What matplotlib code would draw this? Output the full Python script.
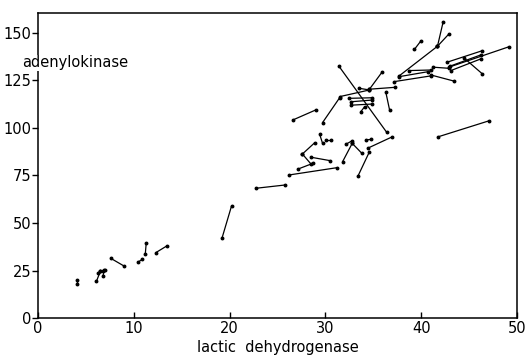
import matplotlib
matplotlib.use("Agg")
import matplotlib.pyplot as plt

# Each segment joins two measurements: (ldh_a, ak_a) -> (ldh_b, ak_b)
ldh_a = [42.3, 41.7, 41.7, 40.0, 49.2, 46.4, 46.2, 46.2, 44.5, 41.2,
         41.0, 41.0, 37.7, 38.7, 37.3, 35.9, 36.3, 31.4, 31.5, 33.5,
         32.5, 32.7, 32.7, 33.7, 31.5, 26.6, 41.8, 37.0, 34.6, 34.2,
         32.2, 32.8, 32.8, 29.4, 30.1, 28.9, 27.6, 28.5, 27.1, 26.25,
         22.8,
         4.1, 6.1, 6.5, 6.9, 6.3, 7.6, 10.4, 11.2, 12.3, 19.2]
ak_a = [156.0, 143.0, 143.0, 146.0, 142.8, 140.7, 138.4, 136.3, 136.7, 132.0,
        127.4, 127.9, 127.0, 130.2, 121.4, 129.3, 119.0, 132.6, 116.5, 120.9,
        115.6, 113.8, 112.0, 108.6, 116.0, 104.2, 95.4, 95.4, 87.5, 93.7,
        91.6, 91.9, 91.9, 96.7, 93.7, 92.3, 86.3, 84.6, 78.3, 75.3,
        68.3,
        19.8, 19.3, 24.5, 25.3, 23.5, 31.4, 29.3, 33.7, 34.4, 41.9]
ldh_b = [41.7, 42.9, 37.7, 39.3, 42.9, 42.7, 43.0, 43.1, 46.4, 42.9,
         37.2, 43.4, 40.7, 41.0, 34.6, 34.6, 36.7, 36.4, 34.6, 34.6,
         34.9, 34.9, 34.9, 34.1, 29.7, 29.0, 47.1, 34.4, 33.4, 34.8,
         32.8, 31.8, 33.8, 29.7, 30.6, 27.6, 28.5, 30.5, 28.7, 31.2,
         25.8,
         4.1, 6.5, 7.0, 6.8, 6.8, 9.0, 10.9, 11.3, 13.5, 20.2]
ak_b = [143.0, 149.5, 127.4, 141.4, 132.0, 134.6, 132.5, 130.2, 128.4, 131.4,
        124.4, 124.7, 129.6, 130.5, 120.4, 120.4, 109.5, 97.7, 120.0, 120.0,
        115.9, 114.7, 112.6, 111.2, 102.8, 109.5, 103.8, 89.3, 74.7, 94.0,
        93.3, 82.3, 86.7, 92.0, 93.7, 86.3, 81.0, 82.8, 81.4, 79.1,
        70.0,
        18.0, 24.5, 25.3, 22.3, 24.5, 27.3, 30.9, 39.6, 38.1, 58.9]

x_ticks = [0, 10, 20, 30, 40, 50]
y_ticks = [0, 25, 50, 75, 100, 125, 150]

fig = plt.figure(figsize=(5.27, 3.56), dpi=100)
ax = fig.add_axes([0.0721, 0.1067, 0.9089, 0.8568])

for xa, ya, xb, yb in zip(ldh_a, ak_a, ldh_b, ak_b):
    ax.plot([xa, xb], [ya, yb], color="black", lw=0.9,
            marker="o", markersize=1.8, solid_capstyle="round")

ax.set_xlim(0, 50)
ax.set_ylim(0, 160.5)
ax.set_xticks(x_ticks)
ax.set_yticks(y_ticks)
ax.tick_params(axis="x", direction="in", length=4, width=1, labelsize=10.5, pad=2)
ax.tick_params(axis="y", direction="out", length=4, width=1, labelsize=10.5, pad=1)
for s in ax.spines.values():
    s.set_linewidth(1.1)

ax.set_xlabel("lactic  dehydrogenase", fontsize=10.5, labelpad=3)
fig.text(22 / 527, 1 - 63 / 356, "adenylokinase", fontsize=10.5,
         ha="left", va="center",
         bbox=dict(facecolor="white", edgecolor="none", pad=0.5), zorder=10)

fig.savefig("out.png", dpi=100)
